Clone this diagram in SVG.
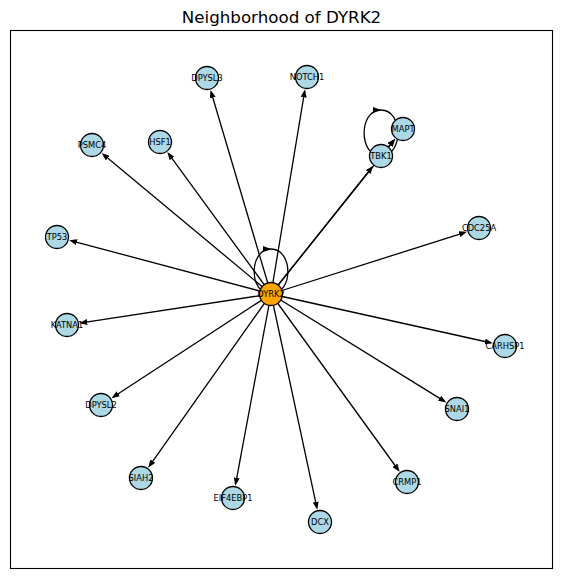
<svg xmlns="http://www.w3.org/2000/svg" width="562" height="579" viewBox="0 0 562 579">
<style>
.e{stroke:#000;stroke-width:1.3;fill:none;marker-end:url(#ah)}
.l{stroke:#000;stroke-width:1.3;fill:none;marker-end:url(#al)}
.n circle{fill:#add8e6;stroke:#000;stroke-width:1.3}
.n text{font-family:"DejaVu Sans",sans-serif;font-size:8.3px;text-anchor:middle;fill:#000}
.t{font-family:"DejaVu Sans",sans-serif;font-size:16.7px;text-anchor:middle;fill:#000}
</style>
<defs>
<marker id="ah" markerUnits="userSpaceOnUse" markerWidth="8" markerHeight="6" refX="4.5" refY="3" orient="auto"><path d="M0,0 L8,3 L0,6 z" fill="#000"/></marker>
<marker id="al" markerUnits="userSpaceOnUse" markerWidth="8" markerHeight="6" refX="8" refY="3" orient="auto"><path d="M0,0 L8,3 L0,6 z" fill="#000"/></marker>
</defs>
<rect x="0" y="0" width="562" height="579" fill="#fff"/>
<text class="t" x="281.5" y="23">Neighborhood of DYRK2</text>
<rect x="10.5" y="30.5" width="542" height="538" fill="none" stroke="#000" stroke-width="1.1"/>
<g id="edges">
<line class="e" x1="271" y1="294" x2="211.5" y2="93.3"/>
<line class="e" x1="271" y1="294" x2="304.4" y2="92.8"/>
<line class="e" x1="271" y1="294" x2="393.0" y2="141.5"/>
<line class="e" x1="271" y1="294" x2="371.0" y2="168.5"/>
<line class="e" x1="271" y1="294" x2="104.3" y2="155.2"/>
<line class="e" x1="271" y1="294" x2="169.4" y2="154.9"/>
<line class="e" x1="271" y1="294" x2="463.7" y2="232.8"/>
<line class="e" x1="271" y1="294" x2="72.5" y2="241.1"/>
<line class="e" x1="271" y1="294" x2="82.8" y2="322.6"/>
<line class="e" x1="271" y1="294" x2="489.4" y2="342.5"/>
<line class="e" x1="271" y1="294" x2="114.4" y2="396.3"/>
<line class="e" x1="271" y1="294" x2="443.4" y2="400.6"/>
<line class="e" x1="271" y1="294" x2="150.2" y2="464.9"/>
<line class="e" x1="271" y1="294" x2="235.9" y2="482.3"/>
<line class="e" x1="271" y1="294" x2="397.6" y2="469.0"/>
<line class="e" x1="271" y1="294" x2="316.6" y2="506.4"/>
<line class="e" x1="381" y1="156" x2="392.9" y2="141.4"/>
<path class="l" d="M271,249 C293.5,249 293.5,294 271,294 C248.5,294 248.5,249 271,249"/>
<path class="l" d="M381,110 C403.5,110 403.5,156 381,156 C358.5,156 358.5,110 381,110"/>
</g>
<g id="node-DPYSL3" class="n"><circle cx="207" cy="78" r="11.5"/><text x="207" y="81">DPYSL3</text></g>
<g id="node-NOTCH1" class="n"><circle cx="307" cy="77" r="11.5"/><text x="307" y="80">NOTCH1</text></g>
<g id="node-MAPT" class="n"><circle cx="403" cy="129" r="11.5"/><text x="403" y="132">MAPT</text></g>
<g id="node-TBK1" class="n"><circle cx="381" cy="156" r="11.5"/><text x="381" y="159">TBK1</text></g>
<g id="node-PSMC4" class="n"><circle cx="92" cy="145" r="11.5"/><text x="92" y="148">PSMC4</text></g>
<g id="node-HSF1" class="n"><circle cx="160" cy="142" r="11.5"/><text x="160" y="145">HSF1</text></g>
<g id="node-CDC25A" class="n"><circle cx="479" cy="228" r="11.5"/><text x="479" y="231">CDC25A</text></g>
<g id="node-TP53" class="n"><circle cx="57" cy="237" r="11.5"/><text x="57" y="240">TP53</text></g>
<g id="node-KATNA1" class="n"><circle cx="67" cy="325" r="11.5"/><text x="67" y="328">KATNA1</text></g>
<g id="node-CARHSP1" class="n"><circle cx="505" cy="346" r="11.5"/><text x="505" y="349">CARHSP1</text></g>
<g id="node-DPYSL2" class="n"><circle cx="101" cy="405" r="11.5"/><text x="101" y="408">DPYSL2</text></g>
<g id="node-SNAI1" class="n"><circle cx="457" cy="409" r="11.5"/><text x="457" y="412">SNAI1</text></g>
<g id="node-SIAH2" class="n"><circle cx="141" cy="478" r="11.5"/><text x="141" y="481">SIAH2</text></g>
<g id="node-EIF4EBP1" class="n"><circle cx="233" cy="498" r="11.5"/><text x="233" y="501">EIF4EBP1</text></g>
<g id="node-CRMP1" class="n"><circle cx="407" cy="482" r="11.5"/><text x="407" y="485">CRMP1</text></g>
<g id="node-DCX" class="n"><circle cx="320" cy="522" r="11.5"/><text x="320" y="525">DCX</text></g>
<g id="node-DYRK2" class="n"><circle cx="271" cy="294" r="11.5" style="fill:#ffa500"/><text x="271" y="297">DYRK2</text></g>
</svg>
